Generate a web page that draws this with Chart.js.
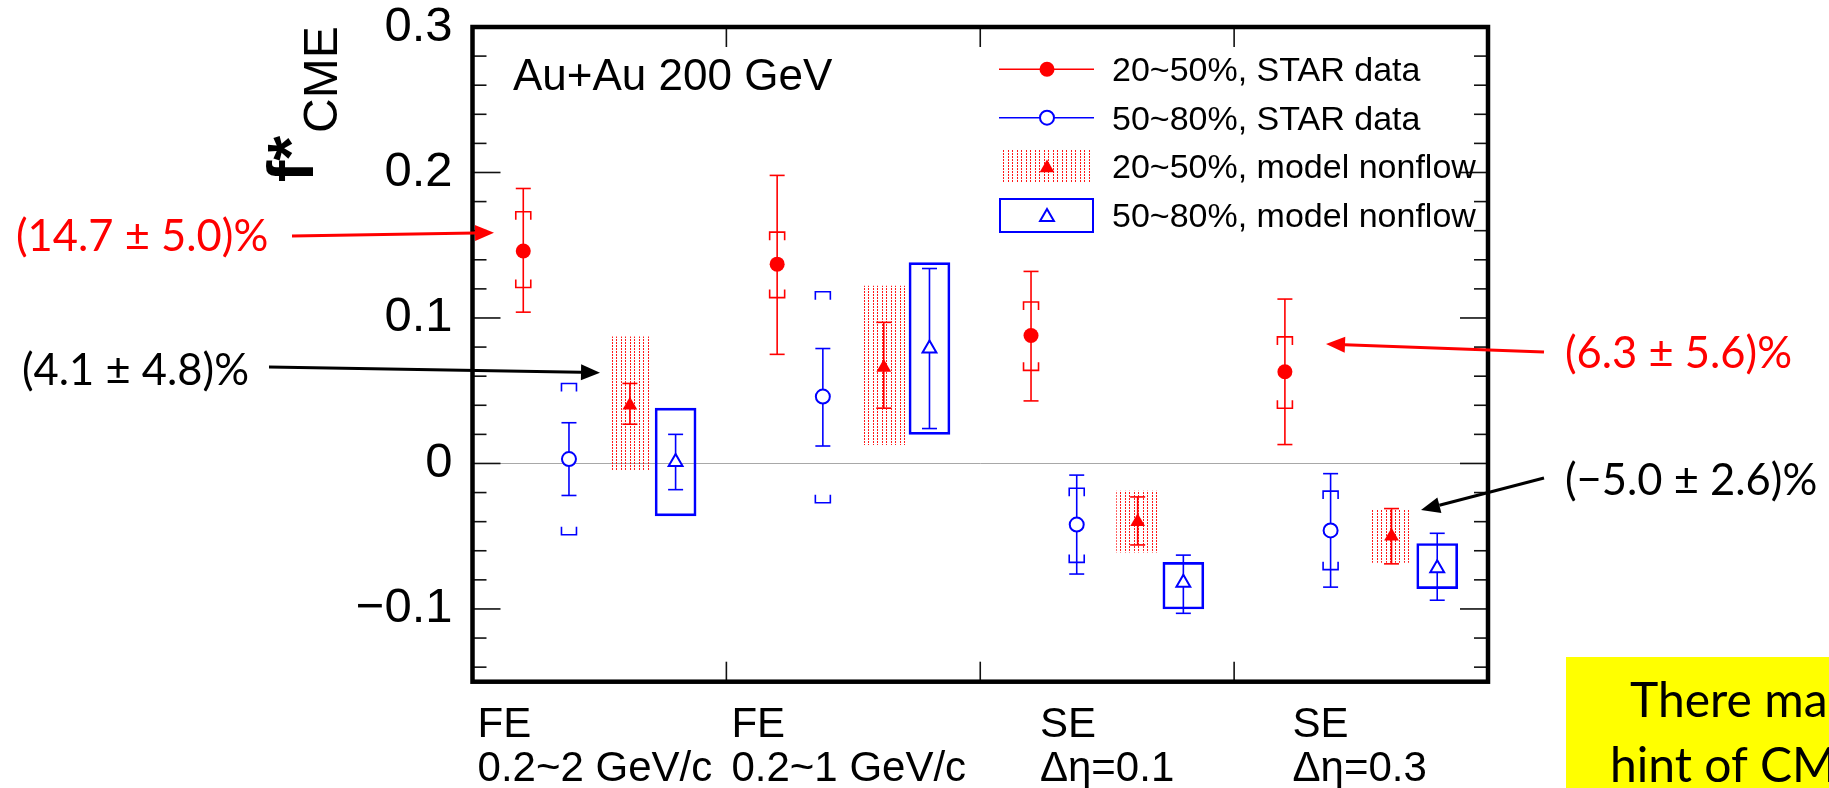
<!DOCTYPE html>
<html><head><meta charset="utf-8">
<script src="https://cdn.jsdelivr.net/npm/chart.js@4/dist/chart.umd.min.js"></script>
<style>html,body{margin:0;padding:0;background:#fff;overflow:hidden}canvas{display:block}</style>
</head><body>
<canvas id="c" width="1829" height="788"></canvas>
<script>
// ---------- data ----------
const categories = [['FE','0.2~2 GeV/c'],['FE','0.2~1 GeV/c'],['SE','Δη=0.1'],['SE','Δη=0.3']];
const yTickValues = [-0.1, 0, 0.1, 0.2, 0.3];
const yTickLabels = ['−0.1','0','0.1','0.2','0.3'];
const seriesNames = ['20~50%, STAR data','50~80%, STAR data','20~50%, model nonflow','50~80%, model nonflow'];

const star2050       = [0.146, 0.137, 0.088, 0.063];
const star2050StatHi = [0.189, 0.198, 0.132, 0.113];
const star2050StatLo = [0.104, 0.075, 0.043, 0.013];
const star2050SysHi  = [0.173, 0.159, 0.111, 0.087];
const star2050SysLo  = [0.121, 0.114, 0.064, 0.038];

const star5080       = [0.003, 0.046, -0.042, -0.046];
const star5080StatHi = [0.028, 0.079, -0.008, -0.007];
const star5080StatLo = [-0.022, 0.012, -0.076, -0.085];
const star5080SysHi  = [0.055, 0.118, -0.017, -0.019];
const star5080SysLo  = [-0.049, -0.027, -0.068, -0.073];

const model2050       = [0.040, 0.066, -0.040, -0.050];
const model2050StatHi = [0.055, 0.097, -0.023, -0.031];
const model2050StatLo = [0.027, 0.038, -0.056, -0.069];
const model2050BandHi = [0.087, 0.122, -0.019, -0.032];
const model2050BandLo = [-0.005, 0.013, -0.061, -0.068];

const model5080       = [0.001, 0.079, -0.082, -0.072];
const model5080StatHi = [0.020, 0.134, -0.063, -0.048];
const model5080StatLo = [-0.018, 0.024, -0.103, -0.094];
const model5080BoxHi  = [0.038, 0.138, -0.068, -0.055];
const model5080BoxLo  = [-0.036, 0.020, -0.100, -0.086];

const annotationTexts = ['(14.7 ± 5.0)%', '(4.1 ± 4.8)%', '(6.3 ± 5.6)%', '(−5.0 ± 2.6)%'];
const systemLabel = 'Au+Au 200 GeV';
const noteLines = ['There ma', 'hint of CM'];

// ---------- layout / style ----------
const RED = '#ff0000', BLUE = '#0000ff';
const OFF = {s2050: 0.20, s5080: 0.38, m2050: 0.62, m5080: 0.80};
const LABEL_ANCHOR = [0.02, 1.02, 2.235, 3.23];
const SANS = '"Liberation Sans", Arial, Helvetica, sans-serif';
const CAL = 'Lato, "Open Sans", sans-serif';

function makePattern() {
  const c = document.createElement('canvas'); c.width = 9; c.height = 3;
  const g = c.getContext('2d');
  g.fillStyle = 'rgba(255,0,0,0.9)';
  g.fillRect(0, 0, 1, 2);
  g.fillRect(4, 0, 1, 2);
  return c;
}

function pts(vals, off) { return vals.map((v, i) => ({x: i + off, y: v})); }
function rng(lo, hi, off) { return lo.map((v, i) => ({x: i + off, y: [v, hi[i]]})); }

function line(ctx, x1, y1, x2, y2) { ctx.beginPath(); ctx.moveTo(x1, y1); ctx.lineTo(x2, y2); ctx.stroke(); }
function bracket(ctx, x, y, hw, leg) {
  ctx.beginPath(); ctx.moveTo(x - hw, y + leg); ctx.lineTo(x - hw, y); ctx.lineTo(x + hw, y); ctx.lineTo(x + hw, y + leg); ctx.stroke();
}
function arrow(ctx, x1, y1, x2, y2, color) {
  const a = Math.atan2(y2 - y1, x2 - x1), L = 19, H = 8;
  const bx = x2 - L * Math.cos(a), by = y2 - L * Math.sin(a);
  ctx.strokeStyle = color; ctx.lineWidth = 3; line(ctx, x1, y1, bx, by);
  ctx.fillStyle = color; ctx.beginPath(); ctx.moveTo(x2, y2);
  ctx.lineTo(bx - H * Math.sin(a), by + H * Math.cos(a));
  ctx.lineTo(bx + H * Math.sin(a), by - H * Math.cos(a));
  ctx.closePath(); ctx.fill();
}
function circleMark(ctx, x, y, r, fill, stroke) {
  ctx.beginPath(); ctx.arc(x, y, r, 0, Math.PI * 2);
  if (fill) { ctx.fillStyle = fill; ctx.fill(); }
  if (stroke) { ctx.strokeStyle = stroke; ctx.lineWidth = 2; ctx.stroke(); }
}
function triMark(ctx, x, y, r, fill, stroke) {
  ctx.beginPath();
  for (let k = 0; k < 3; k++) {
    const a = k * 2 * Math.PI / 3;
    const px = x + Math.sin(a) * r, py = y - Math.cos(a) * r;
    k ? ctx.lineTo(px, py) : ctx.moveTo(px, py);
  }
  ctx.closePath();
  if (fill) { ctx.fillStyle = fill; ctx.fill(); }
  if (stroke) { ctx.strokeStyle = stroke; ctx.lineWidth = 2; ctx.stroke(); }
}

function start() {
  const pattern = document.getElementById('c').getContext('2d').createPattern(makePattern(), 'repeat');
  let errDrawn = false;

  const decor = {
    id: 'decor',
    beforeDraw() { errDrawn = false; },
    beforeDatasetsDraw(chart) {
      const ctx = chart.ctx, a = chart.chartArea, Y = chart.scales.y;
      ctx.save();
      ctx.strokeStyle = '#a8a8a8'; ctx.lineWidth = 1;
      const y0 = Math.round(Y.getPixelForValue(0)) + 0.5;
      line(ctx, a.left, y0, a.right, y0);
      ctx.restore();
    },
    beforeDatasetDraw(chart, args) {
      if (errDrawn || args.meta.type !== 'scatter') return;
      errDrawn = true;
      const ctx = chart.ctx, X = chart.scales.x, Y = chart.scales.y;
      const px = v => X.getPixelForValue(v), py = v => Y.getPixelForValue(v);
      ctx.save();
      ctx.lineWidth = 1.6;
      const HW = 7.5, LEG = 8;
      [[star2050, star2050StatLo, star2050StatHi, star2050SysLo, star2050SysHi, OFF.s2050, RED],
       [star5080, star5080StatLo, star5080StatHi, star5080SysLo, star5080SysHi, OFF.s5080, BLUE]].forEach(s => {
        const [v, lo, hi, slo, shi, off, col] = s;
        ctx.strokeStyle = col;
        v.forEach((_, i) => {
          const x = px(i + off);
          line(ctx, x, py(hi[i]), x, py(lo[i]));
          line(ctx, x - HW, py(hi[i]), x + HW, py(hi[i]));
          line(ctx, x - HW, py(lo[i]), x + HW, py(lo[i]));
          bracket(ctx, x, py(shi[i]), HW, LEG);
          bracket(ctx, x, py(slo[i]), HW, -LEG);
        });
      });
      [[model2050, model2050StatLo, model2050StatHi, OFF.m2050, RED],
       [model5080, model5080StatLo, model5080StatHi, OFF.m5080, BLUE]].forEach(s => {
        const [v, lo, hi, off, col] = s;
        ctx.strokeStyle = col;
        v.forEach((_, i) => {
          const x = px(i + off);
          line(ctx, x, py(hi[i]), x, py(lo[i]));
          line(ctx, x - HW, py(hi[i]), x + HW, py(hi[i]));
          line(ctx, x - HW, py(lo[i]), x + HW, py(lo[i]));
        });
      });
      ctx.restore();
    },
    afterDatasetsDraw(chart) {
      const ctx = chart.ctx, a = chart.chartArea, X = chart.scales.x, Y = chart.scales.y;
      ctx.save();
      ctx.strokeStyle = '#111'; ctx.lineWidth = 1.6;
      for (let k = -7; k <= 14; k++) {
        const y = Y.getPixelForValue(k * 0.02);
        const len = (k % 5 === 0) ? 28 : 14;
        line(ctx, a.left, y, a.left + len, y);
        line(ctx, a.right - len, y, a.right, y);
      }
      [1, 2, 3].forEach(v => {
        const x = X.getPixelForValue(v);
        line(ctx, x, a.top, x, a.top + 20);
        line(ctx, x, a.bottom - 20, x, a.bottom);
      });
      ctx.strokeStyle = '#000'; ctx.lineWidth = 4.5;
      ctx.strokeRect(a.left, a.top, a.right - a.left, a.bottom - a.top);

      ctx.fillStyle = '#000'; ctx.textBaseline = 'alphabetic'; ctx.textAlign = 'left';
      ctx.font = '44px ' + SANS;
      ctx.fillText(systemLabel, 513, 90);

      // legend
      const rows = [69.3, 117.7, 166, 215], lx1 = 999, lx2 = 1094, mx = 1047;
      ctx.lineWidth = 1.6;
      ctx.strokeStyle = RED; line(ctx, lx1, rows[0], lx2, rows[0]);
      circleMark(ctx, mx, rows[0], 7.5, RED, null);
      ctx.strokeStyle = BLUE; line(ctx, lx1, rows[1], lx2, rows[1]);
      circleMark(ctx, mx, rows[1], 7, '#fff', BLUE);
      ctx.fillStyle = pattern; ctx.fillRect(1003, rows[2] - 17, 89, 34);
      triMark(ctx, mx, rows[2] + 2, 8.5, RED, null);
      ctx.strokeStyle = BLUE; ctx.lineWidth = 2; ctx.strokeRect(1000, rows[3] - 16, 93, 33);
      triMark(ctx, mx, rows[3] + 2, 8, '#fff', BLUE);
      ctx.fillStyle = '#000'; ctx.font = '34px ' + SANS;
      seriesNames.forEach((t, i) => ctx.fillText(t, 1112, rows[i] + 12));

      // y-axis title f*_CME
      ctx.save();
      ctx.translate(313, 182); ctx.rotate(-Math.PI / 2);
      ctx.font = 'bold 64px ' + SANS; ctx.fillText('f*', 0, 0);
      ctx.font = '48px ' + SANS; ctx.fillText('CME', 49, 24);
      ctx.restore();

      // annotations
      ctx.font = '100px ' + CAL;
      const fs = 100 * 227 / ctx.measureText(annotationTexts[1]).width;
      ctx.font = fs.toFixed(1) + 'px ' + CAL;
      ctx.textBaseline = 'middle';
      ctx.fillStyle = RED; ctx.fillText(annotationTexts[0], 16, 237);
      ctx.fillStyle = '#000'; ctx.fillText(annotationTexts[1], 22, 371);
      ctx.fillStyle = RED; ctx.fillText(annotationTexts[2], 1565, 354);
      ctx.fillStyle = '#000'; ctx.fillText(annotationTexts[3], 1565, 481);
      arrow(ctx, 292, 236, 494, 232.7, RED);
      arrow(ctx, 269, 367, 600, 372.7, '#000');
      arrow(ctx, 1544, 352, 1326, 344, RED);
      arrow(ctx, 1544, 478, 1421, 510, '#000');

      ctx.fillStyle = '#ffff00'; ctx.fillRect(1566, 657, 263, 131);
      ctx.fillStyle = '#000'; ctx.textBaseline = 'alphabetic';
      ctx.font = '48px ' + CAL;
      ctx.fillText(noteLines[0], 1630, 717);
      ctx.fillText(noteLines[1], 1610, 782);
      ctx.restore();
    }
  };

  new Chart(document.getElementById('c'), {
    type: 'scatter',
    data: {
      datasets: [
        {type: 'bar', label: seriesNames[2] + ' band', data: rng(model2050BandLo, model2050BandHi, OFF.m2050),
         backgroundColor: pattern, borderWidth: 0, barThickness: 42, grouped: false, order: 3},
        {type: 'bar', label: seriesNames[3] + ' box', data: rng(model5080BoxLo, model5080BoxHi, OFF.m5080),
         backgroundColor: 'rgba(0,0,0,0)', borderColor: BLUE, borderWidth: 2, borderSkipped: false,
         barThickness: 41, grouped: false, order: 3},
        {label: seriesNames[0], data: pts(star2050, OFF.s2050), pointStyle: 'circle', pointRadius: 7.5,
         backgroundColor: RED, borderColor: RED, borderWidth: 0, order: 1},
        {label: seriesNames[1], data: pts(star5080, OFF.s5080), pointStyle: 'circle', pointRadius: 7,
         backgroundColor: '#fff', borderColor: BLUE, borderWidth: 2, order: 1},
        {label: seriesNames[2], data: pts(model2050, OFF.m2050), pointStyle: 'triangle', pointRadius: 8.5,
         backgroundColor: RED, borderColor: RED, borderWidth: 0, order: 1},
        {label: seriesNames[3], data: pts(model5080, OFF.m5080), pointStyle: 'triangle', pointRadius: 8,
         backgroundColor: '#fff', borderColor: BLUE, borderWidth: 2, order: 1}
      ]
    },
    options: {
      responsive: false, animation: false, devicePixelRatio: 1, events: [],
      layout: {padding: {left: 0, right: 341, top: 27, bottom: 0}, autoPadding: false},
      plugins: {legend: {display: false}, tooltip: {enabled: false}, title: {display: false}},
      scales: {
        x: {
          type: 'linear', min: 0, max: 4, bounds: 'data', offset: false,
          grid: {display: false}, border: {display: false},
          afterBuildTicks: s => { s.ticks = LABEL_ANCHOR.map(v => ({value: v})); },
          afterFit: s => { s.height = 106.3; },
          ticks: {
            autoSkip: false, maxRotation: 0, minRotation: 0, align: 'start', padding: 14,
            color: '#000', font: {family: SANS, size: 42, lineHeight: 1.05},
            callback: (v, i) => categories[i]
          }
        },
        y: {
          type: 'linear', min: -0.15, max: 0.3, bounds: 'data',
          grid: {display: false}, border: {display: false},
          afterBuildTicks: s => { s.ticks = yTickValues.map(v => ({value: v})); },
          afterFit: s => { s.width = 472.5; },
          ticks: {
            padding: 12, color: '#000', font: {family: SANS, size: 49, lineHeight: 0.4},
            callback: (v, i) => yTickLabels[i]
          }
        }
      }
    },
    plugins: [decor]
  });
}

const fontLoads = ['44px "Liberation Sans"', 'bold 64px "Liberation Sans"', '44px Lato'].map(f => document.fonts.load(f));
Promise.all(fontLoads).then(start, start);
</script>
</body></html>
